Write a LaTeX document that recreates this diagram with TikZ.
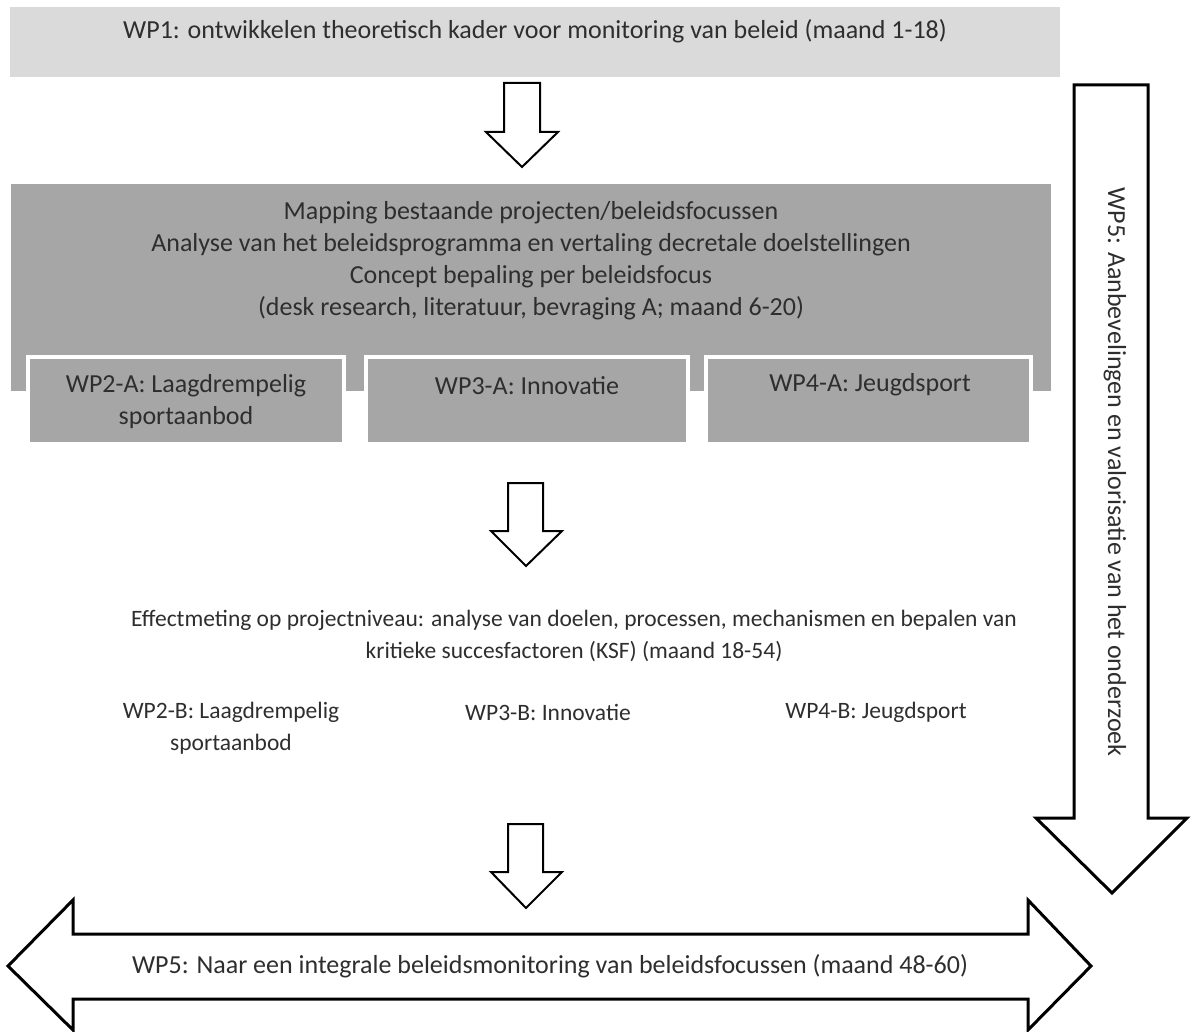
\documentclass[tikz,border=0pt]{standalone}
\usepackage{fontspec}
\setmainfont{Carlito}
\begin{document}
\begin{tikzpicture}[x=1pt,y=-1pt,
  txt/.style={font=\fontsize{26}{32}\selectfont, text=black!82, align=center, inner sep=0pt},
  txtsmall/.style={font=\fontsize{23.5}{32}\selectfont, text=black!82, align=center, inner sep=0pt},
  smallarrow/.style={draw=black, fill=white, line width=2pt, line join=miter},
  bigarrow/.style={draw=black, fill=white, line width=3pt, line join=miter},
  subbox/.style={fill=boxgray, draw=white, line width=4pt},
]
\definecolor{lightgray1}{HTML}{DADADA}
\definecolor{boxgray}{HTML}{A6A6A6}
\useasboundingbox (0,0) rectangle (1193,1032);

% WP1 box
\fill[lightgray1] (10,7) rectangle (1060,77);
\node[txt] (wp1) at (535,31) {WP1: ontwikkelen theoretisch kader voor monitoring van beleid (maand 1-18)};

% arrow 1
\draw[smallarrow] (504,83) -- (540,83) -- (540,132) -- (558,132) -- (522,167) -- (486,132) -- (504,132) -- cycle;

% main gray box
\fill[boxgray] (11,184) rectangle (1051,391);
\node[txt] (map) at (531,261) {Mapping bestaande projecten/beleidsfocussen\\Analyse van het beleidsprogramma en vertaling decretale doelstellingen\\Concept bepaling per beleidsfocus\\(desk research, literatuur, bevraging A; maand 6-20)};

% sub boxes
\draw[subbox] (27.5,357) rectangle (344,444);
\draw[subbox] (366,357) rectangle (687.5,444);
\draw[subbox] (706,357) rectangle (1031,444);
\node[txt] (wp2a) at (186,402) {WP2-A: Laagdrempelig\\sportaanbod};
\node[txt] (wp3a) at (527,386) {WP3-A: Innovatie};
\node[txt] (wp4a) at (870,385) {WP4-A: Jeugdsport};

% arrow 2
\draw[smallarrow] (508,483) -- (543,483) -- (543,531) -- (562,531) -- (526,566) -- (491,531) -- (508,531) -- cycle;

% Effectmeting text
\node[txtsmall] (eff) at (574,636) {Effectmeting op projectniveau: analyse van doelen, processen, mechanismen en bepalen van\\kritieke succesfactoren (KSF) (maand 18-54)};

\node[txtsmall] (wp2b) at (231,728) {WP2-B: Laagdrempelig\\sportaanbod};
\node[txtsmall] (wp3b) at (548,712) {WP3-B: Innovatie};
\node[txtsmall] (wp4b) at (876,712) {WP4-B: Jeugdsport};

% arrow 3
\draw[smallarrow] (508,824) -- (543,824) -- (543,872) -- (562,872) -- (526,908) -- (491,872) -- (508,872) -- cycle;

% right vertical arrow
\draw[bigarrow] (1074,85) -- (1148,85) -- (1148,818) -- (1187,818) -- (1112,893) -- (1036,818) -- (1074,818) -- cycle;
\node[txt, rotate=-90] (wp5v) at (1115,472) {WP5: Aanbevelingen en valorisatie van het onderzoek};

% bottom double arrow
\draw[bigarrow] (8,966) -- (73,900) -- (73,934) -- (1028,934) -- (1028,900) -- (1091,966) -- (1028,1030) -- (1028,999) -- (73,999) -- (73,1030) -- cycle;
\node[txt] (wp5h) at (550,966) {WP5: Naar een integrale beleidsmonitoring van beleidsfocussen (maand 48-60)};
\end{tikzpicture}
\end{document}
